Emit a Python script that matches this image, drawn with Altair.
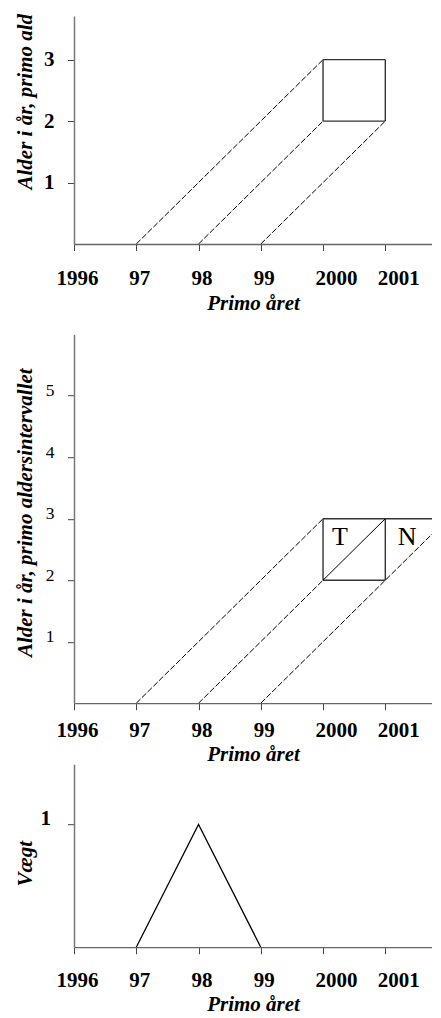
import altair as alt
import pandas as pd

# ---------------- data ----------------
years = [1996, 1997, 1998, 1999, 2000, 2001]
year_labels = ["1996", "97", "98", "99", "2000", "2001"]
x_domain = [1996, 2001.75]

# panel 1 (Lexis diagram, one square)
p1_y_ticks = [1, 2, 3]
p1_y_domain = [0, 3.71]
p1_diag_x1 = [1997, 1998, 1999]
p1_diag_y1 = [0, 0, 0]
p1_diag_x2 = [2000, 2000, 2001]
p1_diag_y2 = [3, 2, 2]
p1_box_x1 = [2000, 2001, 2000, 2000]
p1_box_y1 = [2, 2, 2, 3]
p1_box_x2 = [2000, 2001, 2001, 2001]
p1_box_y2 = [3, 3, 2, 3]

# panel 2 (Lexis diagram with T / N triangles); last segments run to the right edge
p2_y_ticks = [1, 2, 3, 4, 5]
p2_y_domain = [0, 6]
p2_diag_x1 = [1997, 1998, 1999]
p2_diag_y1 = [0, 0, 0]
p2_diag_x2 = [2000, 2000, 2001.75]
p2_diag_y2 = [3, 2, 2.75]
p2_box_x1 = [2000, 2001, 2000, 2000]
p2_box_y1 = [2, 2, 2, 3]
p2_box_x2 = [2000, 2001, 2001, 2001.75]
p2_box_y2 = [3, 3, 2, 3]
p2_split_x1 = [2000]
p2_split_y1 = [2]
p2_split_x2 = [2001]
p2_split_y2 = [3]
p2_text = ["T", "N"]
p2_text_x = [2000.27, 2001.35]
p2_text_y = [2.70, 2.70]

# panel 3 (weight)
p3_y_ticks = [1]
p3_y_domain = [0, 1.49]
p3_year = [1997, 1998, 1999]
p3_weight = [0, 1, 0]

# ---------------- styling ----------------
FONT = "Liberation Serif"
W = 358

label_expr = " : ".join(
    f"datum.value == {v} ? '{l}'" for v, l in zip(years, year_labels)
) + " : ''"


def x_axis(label_padding, title_y):
    return alt.Axis(
        values=years,
        labelExpr=label_expr,
        labelFont=FONT,
        labelFontSize=21,
        labelFontWeight="bold",
        labelColor="black",
        labelFlush=False,
        labelOverlap=False,
        labelPadding=label_padding,
        labelOffset={"condition": {"test": "datum.value >= 2000", "value": 13}, "value": 3},
        tickSize=6.5,
        tickColor="#444",
        domainColor="#666",
        domainWidth=1.3,
        grid=False,
        title="Primo året",
        titleFont=FONT,
        titleFontSize=21,
        titleFontStyle="italic",
        titleFontWeight="bold",
        titleColor="black",
        titleY=title_y,
        titleBaseline="top",
    )


def y_axis(values, title, title_y, title_align, label_size, label_weight,
           label_baseline, label_padding):
    return alt.Axis(
        values=values,
        format="d",
        labelFont=FONT,
        labelFontSize=label_size,
        labelFontWeight=label_weight,
        labelColor="black",
        labelAlign="right",
        labelBaseline=label_baseline,
        labelFlush=False,
        labelOverlap=False,
        labelPadding=label_padding,
        tickSize=6.5,
        tickColor="#444",
        domainColor="#777",
        domainWidth=1.5,
        grid=False,
        title=title,
        titleFont=FONT,
        titleFontSize=21,
        titleFontStyle="italic",
        titleFontWeight="bold",
        titleColor="black",
        titleAngle=270,
        titleX=-43,
        titleY=title_y,
        titleAlign=title_align,
        titleBaseline="alphabetic",
    )


xscale = alt.Scale(domain=x_domain, nice=False, zero=False)


def segs(x1, y1, x2, y2, yscale, xax=None, yax=None, dash=None, width=1.0, color="black"):
    df = pd.DataFrame({"x1": x1, "y1": y1, "x2": x2, "y2": y2})
    kw = dict(clip=True, strokeWidth=width, color=color)
    if dash:
        kw["strokeDash"] = dash
    xkw = {"axis": xax} if xax is not None else {}
    ykw = {"axis": yax} if yax is not None else {}
    return alt.Chart(df).mark_rule(**kw).encode(
        x=alt.X("x1:Q", scale=xscale, **xkw),
        y=alt.Y("y1:Q", scale=yscale, **ykw),
        x2="x2:Q",
        y2="y2:Q",
    )


# ---------------- panel 1 ----------------
H1 = 228
ys1 = alt.Scale(domain=p1_y_domain, nice=False, zero=False)
xa1 = x_axis(label_padding=16.5, title_y=48.5)
ya1 = y_axis(p1_y_ticks, "Alder i år, primo ald", H1 - 55, "left", 21, "bold", "middle", 13.5)
panel1 = alt.layer(
    segs(p1_diag_x1, p1_diag_y1, p1_diag_x2, p1_diag_y2, ys1, xa1, ya1, dash=[6, 2], width=1),
    segs(p1_box_x1, p1_box_y1, p1_box_x2, p1_box_y2, ys1, width=1.4, color="#333"),
).properties(width=W, height=H1)

# ---------------- panel 2 ----------------
H2 = 369
ys2 = alt.Scale(domain=p2_y_domain, nice=False, zero=False)
xa2 = x_axis(label_padding=10, title_y=40)
ya2 = y_axis(p2_y_ticks, "Alder i år, primo aldersintervallet", 178, "center",
             17.5, "normal", "alphabetic", 13.5)
txt_df = pd.DataFrame({"x": p2_text_x, "y": p2_text_y, "t": p2_text})
panel2 = alt.layer(
    segs(p2_diag_x1, p2_diag_y1, p2_diag_x2, p2_diag_y2, ys2, xa2, ya2, dash=[6, 2], width=1),
    segs(p2_box_x1, p2_box_y1, p2_box_x2, p2_box_y2, ys2, width=1.4, color="#333"),
    segs(p2_split_x1, p2_split_y1, p2_split_x2, p2_split_y2, ys2, width=1),
    alt.Chart(txt_df).mark_text(font=FONT, fontSize=26, align="center",
                                baseline="middle", color="black").encode(
        x=alt.X("x:Q", scale=xscale),
        y=alt.Y("y:Q", scale=ys2),
        text="t:N",
    ),
).properties(width=W, height=H2, title=alt.Title(" ", fontSize=1, offset=24))

# ---------------- panel 3 ----------------
H3 = 183
ys3 = alt.Scale(domain=p3_y_domain, nice=False, zero=False)
xa3 = x_axis(label_padding=16, title_y=46)
ya3 = y_axis(p3_y_ticks, "Vægt", 99, "center", 21, "bold", "alphabetic", 17)
w_df = pd.DataFrame({"year": p3_year, "weight": p3_weight})
panel3 = alt.Chart(w_df).mark_line(color="black", strokeWidth=1.3, clip=True).encode(
    x=alt.X("year:Q", scale=xscale, axis=xa3),
    y=alt.Y("weight:Q", scale=ys3, axis=ya3),
).properties(width=W, height=H3)

chart = alt.vconcat(panel1, panel2, panel3, spacing=-4.8).properties(
    padding={"left": 5, "top": 5, "right": 0, "bottom": 0}
).configure_view(stroke=None)

chart.save("out.html", embed_options={"renderer": "svg", "actions": False})
